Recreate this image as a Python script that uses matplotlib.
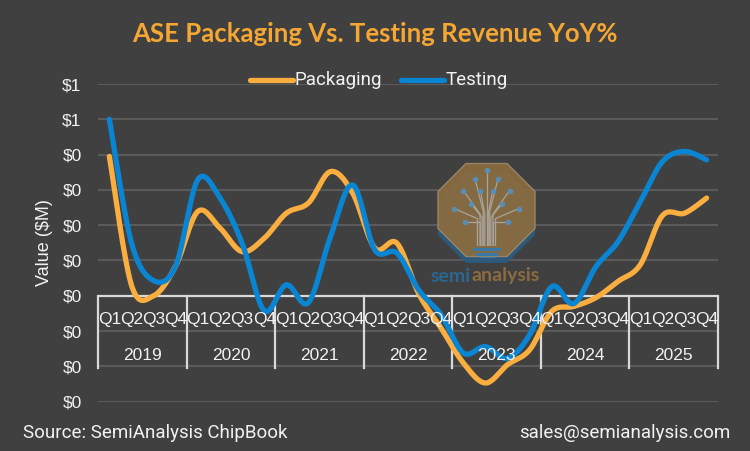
import numpy as np
import matplotlib
matplotlib.use("Agg")
import matplotlib.pyplot as plt
from matplotlib.lines import Line2D
from matplotlib.patches import Polygon

# === Data (YoY growth)
years = ["2019", "2020", "2021", "2022", "2023", "2024", "2025"]
quarters = ["Q1", "Q2", "Q3", "Q4"]
packaging = [0.395, 0.03, 0.0, 0.085, 0.239, 0.192, 0.125, 0.163,
             0.234, 0.263, 0.352, 0.291, 0.135, 0.149, 0.004, -0.092,
             -0.19, -0.247, -0.195, -0.153, -0.044, -0.03, -0.005, 0.041,
             0.088, 0.227, 0.234, 0.277]
testing = [0.50, 0.15, 0.043, 0.085, 0.329, 0.277, 0.149, -0.042,
           0.031, -0.019, 0.168, 0.314, 0.13, 0.121, 0.015, -0.054,
           -0.162, -0.144, -0.177, -0.11, 0.026, -0.022, 0.083, 0.154,
           0.267, 0.38, 0.409, 0.385]
y_ticks = [-0.3, -0.2, -0.1, 0.0, 0.1, 0.2, 0.3, 0.4, 0.5, 0.6]
y_tick_labels = ["$0", "$0", "$0", "$0", "$0", "$0", "$0", "$0", "$1", "$1"]

# === Style
BG = "#404040"
ORANGE = "#FAAE40"
BLUE = "#0A85D3"
TITLE_C = "#F5A733"
GRID_C = "#5A5A5A"
AXIS_C = "#D9D9D9"
TXT = "#F2F2F2"
NARROW = ["Roboto", "DejaVu Sans"]
ARIAL = ["Liberation Sans", "DejaVu Sans"]


def smooth(y, steps=20):
    # Excel-like smoothed line (Catmull-Rom bezier through the points)
    x = np.arange(len(y), dtype=float)
    y = np.asarray(y, dtype=float)
    pts = np.column_stack([x, y])
    p = np.vstack([pts[0], pts, pts[-1]])
    out = []
    t = np.linspace(0, 1, steps, endpoint=False)[:, None]
    for i in range(1, len(p) - 2):
        p0, p1, p2, p3 = p[i - 1], p[i], p[i + 1], p[i + 2]
        c1 = p1 + (p2 - p0) / 6
        c2 = p2 - (p3 - p1) / 6
        seg = ((1 - t) ** 3) * p1 + 3 * ((1 - t) ** 2) * t * c1 \
            + 3 * (1 - t) * t ** 2 * c2 + t ** 3 * p2
        out.append(seg)
    out.append(pts[-1:])
    out = np.vstack(out)
    return out[:, 0], out[:, 1]


W, H = 750, 451
fig = plt.figure(figsize=(7.5, 4.51), dpi=100, facecolor=BG)


def fx(px):
    return px / W


def fy(py):
    return 1 - py / H


ax = fig.add_axes([fx(98.3), fy(401.7), fx(717.7) - fx(98.3), fy(84) - fy(401.7)])
ax.set_facecolor(BG)
n = len(packaging)
ax.set_xlim(-0.5, n - 0.5)
ax.set_ylim(-0.3, 0.6)

for s in ax.spines.values():
    s.set_visible(False)
ax.set_yticks(y_ticks)
ax.set_yticklabels(y_tick_labels, fontsize=12.5, color=TXT, family=ARIAL)
ax.tick_params(axis="y", length=0, pad=12)
ax.set_xticks([])
ax.yaxis.grid(True, color=GRID_C, linewidth=1.5)
ax.set_axisbelow(True)
ax.set_ylabel("Value ($M)", fontsize=13, color=TXT, family=ARIAL, labelpad=7)

# category axis drawn at zero, with year boxes
ax.axhline(0, color=AXIS_C, linewidth=1.6, zorder=2)
box_bottom = -0.204
for k in range(len(years) + 1):
    xb = -0.5 + 4 * k
    ax.plot([xb, xb], [0, box_bottom], color=AXIS_C, linewidth=1.6,
            clip_on=False, zorder=2)
for i in range(n):
    ax.text(i, -0.068, quarters[i % 4], ha="center", va="center",
            fontsize=12.5, color=TXT, family=ARIAL, zorder=6)
for k, yr in enumerate(years):
    ax.text(4 * k + 1.5, -0.17, yr, ha="center", va="center",
            fontsize=12.5, color=TXT, family=ARIAL, zorder=6)

# lines
xs, ys = smooth(packaging)
ax.plot(xs, ys, color=ORANGE, linewidth=3.8, solid_capstyle="round", zorder=4)
xs, ys = smooth(testing)
ax.plot(xs, ys, color=BLUE, linewidth=3.8, solid_capstyle="round", zorder=5)


# watermark logo
def octagon(cx, cy, w, h, cut):
    pts = [(cx - w / 2 + cut, cy - h / 2), (cx + w / 2 - cut, cy - h / 2),
           (cx + w / 2, cy - h / 2 + cut), (cx + w / 2, cy + h / 2 - cut),
           (cx + w / 2 - cut, cy + h / 2), (cx - w / 2 + cut, cy + h / 2),
           (cx - w / 2, cy + h / 2 - cut), (cx - w / 2, cy - h / 2 + cut)]
    return [(fx(a), fy(b)) for a, b in pts]


fig.patches.append(Polygon(octagon(486.5, 217, 97, 92, 28), closed=True,
                           transform=fig.transFigure, facecolor="#2A5C80",
                           edgecolor="none", alpha=0.9, zorder=3))
fig.patches.append(Polygon(octagon(486.5, 210, 97, 93, 28), closed=True,
                           transform=fig.transFigure, facecolor="#8D6C3E",
                           edgecolor="#9C8A6E", linewidth=1, alpha=0.9, zorder=3))
tree = fig.add_axes([fx(448), fy(258), fx(525) - fx(448), fy(168) - fy(258)])
tree.set_xlim(0, 1)
tree.set_ylim(0, 1)
tree.axis("off")
tree.set_zorder(6)
branch_c = "#A8A49B"
tips = [(0.5, 0.98), (0.35, 0.88), (0.65, 0.88), (0.2, 0.75), (0.8, 0.75),
        (0.08, 0.55), (0.92, 0.55), (0.22, 0.4), (0.78, 0.4), (0.42, 0.75),
        (0.58, 0.75), (0.3, 0.6), (0.7, 0.6)]
for tx, ty in tips:
    bx = 0.36 + 0.28 * tx
    tree.plot([bx, bx, tx], [0.14, 0.3 + 0.25 * ty, ty], color=branch_c, lw=0.9)
    tree.plot(tx, ty, "o", ms=3, color="#5A8DB3")
for j, yb in enumerate([0.1, 0.05, 0.0]):
    tree.plot([0.34 + 0.04 * j, 0.66 - 0.04 * j], [yb, yb], color="#3B78A6", lw=2.2)

fig.text(fx(471), fy(276), "semi", ha="right", va="center", fontsize=14,
         color="#2D6690", family=["Lato", "DejaVu Sans"], fontweight="bold")
fig.text(fx(471), fy(276), "analysis", ha="left", va="center", fontsize=14,
         color="#8C6B3E", family=["Lato", "DejaVu Sans"], fontweight="bold")

# title
fig.text(0.5, fy(34), "ASE Packaging Vs. Testing Revenue YoY%", ha="center",
         va="center", fontsize=18.5, fontweight="bold", color=TITLE_C,
         family=["Lato", "DejaVu Sans"])

# legend
leg_y = fy(80)
fig.lines.append(Line2D([fx(250), fx(293)], [leg_y, leg_y], color=ORANGE,
                        linewidth=3.8, solid_capstyle="round",
                        transform=fig.transFigure))
fig.text(fx(295), leg_y, "Packaging", ha="left", va="center", fontsize=13.5,
         color=TXT, family=NARROW)
fig.lines.append(Line2D([fx(401), fx(444)], [leg_y, leg_y], color=BLUE,
                        linewidth=3.8, solid_capstyle="round",
                        transform=fig.transFigure))
fig.text(fx(446), leg_y, "Testing", ha="left", va="center", fontsize=13.5,
         color=TXT, family=NARROW)

# footer
fig.text(fx(23), fy(433), "Source: SemiAnalysis ChipBook", ha="left",
         va="center", fontsize=13.5, color=TXT, family=NARROW)
fig.text(fx(730), fy(433), "sales@semianalysis.com", ha="right",
         va="center", fontsize=13.5, color=TXT, family=NARROW)

fig.savefig("out.png", dpi=100, facecolor=BG)
